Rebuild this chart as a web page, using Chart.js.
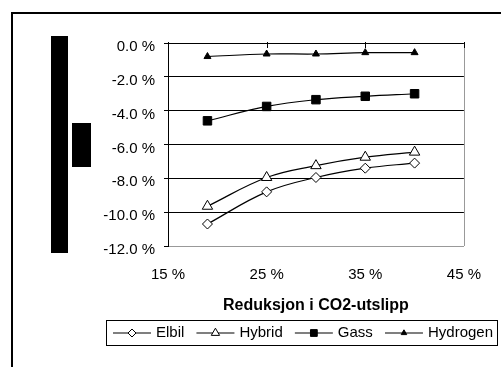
<!DOCTYPE html>
<html>
<head>
<meta charset="utf-8">
<script src="https://cdn.jsdelivr.net/npm/chart.js@4.4.1/dist/chart.umd.min.js"></script>
<style>
  html, body { margin: 0; padding: 0; background: #fff; }
  #wrap { position: relative; width: 501px; height: 367px; overflow: hidden; }
  #frame { position: absolute; left: 11px; top: 12px; width: 600px; height: 400px;
           border-left: 2px solid #000; border-top: 2px solid #000; }
  .block { position: absolute; background: #000; }
  #chart { position: absolute; left: 0; top: 0; }
</style>
</head>
<body>
<div id="wrap">
  <div id="frame"></div>
  <div class="block" style="left:51px;top:36px;width:17px;height:217px"></div>
  <div class="block" style="left:72px;top:123px;width:19px;height:44px"></div>
  <canvas id="chart" width="501" height="367"></canvas>
</div>
<script>
// reduksjon i CO2-utslipp (%) and change per technology (%)
const reduction = [19, 25, 30, 35, 40];
const elbil = [-10.7, -8.8, -7.95, -7.4, -7.1];
const hybrid = [-9.65, -7.95, -7.25, -6.75, -6.45];
const gass = [-4.6, -3.75, -3.35, -3.15, -3.0];
const hydrogen = [-0.8, -0.65, -0.65, -0.57, -0.57];

const seriesNames = ['Elbil', 'Hybrid', 'Gass', 'Hydrogen'];
const xTicks = [15, 25, 35, 45];
const yTicks = [0, -2, -4, -6, -8, -10, -12];
const xTitle = 'Reduksjon i CO2-utslipp';

const FONT = '"Liberation Sans", Arial, Helvetica, sans-serif';
Chart.defaults.font.family = FONT;
Chart.defaults.color = '#000';

const toPoints = ys => reduction.map((x, i) => ({ x: x, y: ys[i] }));

function series(label, ys, style, radius, fill) {
  return {
    label: label,
    data: toPoints(ys),
    borderColor: '#000',
    borderWidth: 1.2,
    tension: 0.4,
    pointStyle: style,
    pointRadius: radius,
    pointHoverRadius: radius,
    pointBackgroundColor: fill,
    pointBorderColor: '#000',
    pointBorderWidth: 1
  };
}

// plot frame: grey right edge, and the x axis tick marks along 0 %
const plotFrame = {
  id: 'plotFrame',
  beforeDatasetsDraw(chart) {
    const { ctx, chartArea: a, scales: { x } } = chart;
    ctx.save();
    ctx.lineWidth = 1;
    ctx.strokeStyle = '#999';
    const rx = Math.round(a.right) + 0.5;
    ctx.beginPath();
    ctx.moveTo(rx, a.top);
    ctx.lineTo(rx, a.bottom);
    ctx.stroke();
    ctx.strokeStyle = '#000';
    ctx.beginPath();
    x.ticks.forEach(t => {
      const px = Math.round(x.getPixelForValue(t.value)) + 0.5;
      ctx.moveTo(px, a.top - 1);
      ctx.lineTo(px, a.top + 5);
    });
    ctx.stroke();
    ctx.restore();
  }
};

// legend in a box, each entry drawn as line + marker + name
const boxLegend = {
  id: 'boxLegend',
  afterDraw(chart, args, opts) {
    const { ctx } = chart;
    const box = opts.box;
    ctx.save();
    ctx.font = opts.fontSize + 'px ' + FONT;
    ctx.lineWidth = 1;
    ctx.strokeStyle = '#000';
    ctx.strokeRect(box.left + 0.5, box.top + 0.5, box.width, box.height);

    const items = chart.data.datasets.map(ds => ({ ds: ds, w: ctx.measureText(ds.label).width }));
    const used = items.reduce((s, it) => s + opts.lineLength + opts.textGap + it.w, 0);
    const gap = (box.width - opts.padLeft - opts.padRight - used) / (items.length - 1);
    const cy = box.top + box.height / 2 + 0.5;
    let cx = box.left + opts.padLeft;
    items.forEach(it => {
      const ds = it.ds;
      ctx.strokeStyle = '#000';
      ctx.lineWidth = 1.2;
      ctx.beginPath();
      ctx.moveTo(cx, cy);
      ctx.lineTo(cx + opts.lineLength, cy);
      ctx.stroke();
      ctx.fillStyle = ds.pointBackgroundColor;
      ctx.lineWidth = 1;
      Chart.helpers.drawPoint(ctx, {
        pointStyle: ds.pointStyle,
        radius: ds.pointRadius * 0.8,
        rotation: 0,
        borderWidth: 1
      }, cx + opts.lineLength / 2, cy);
      ctx.fillStyle = '#000';
      ctx.textBaseline = 'middle';
      ctx.textAlign = 'left';
      ctx.fillText(ds.label, cx + opts.lineLength + opts.textGap, cy);
      cx += opts.lineLength + opts.textGap + it.w + gap;
    });
    ctx.restore();
  }
};

new Chart(document.getElementById('chart'), {
  type: 'line',
  data: {
    datasets: [
      series(seriesNames[0], elbil, 'rectRot', 5, '#fff'),
      series(seriesNames[1], hybrid, 'triangle', 6, '#fff'),
      series(seriesNames[2], gass, 'rect', 6, '#000'),
      series(seriesNames[3], hydrogen, 'triangle', 4, '#000')
    ]
  },
  options: {
    responsive: false,
    animation: false,
    events: [],
    layout: { padding: { top: 43, right: 29, left: 0, bottom: 0 } },
    scales: {
      x: {
        type: 'linear',
        position: 'bottom',
        min: 15,
        max: 45,
        afterBuildTicks: s => { s.ticks = xTicks.map(v => ({ value: v })); },
        afterFit: s => { s.height = 121; },
        grid: { display: true, drawOnChartArea: false, drawTicks: false },
        border: { color: '#999', width: 1 },
        ticks: {
          padding: 20,
          font: { size: 15 },
          color: '#000',
          maxRotation: 0,
          callback: v => v + ' %'
        },
        title: {
          display: true,
          text: xTitle,
          color: '#000',
          font: { size: 16, weight: 'bold' },
          padding: { top: 0, bottom: 52 }
        }
      },
      y: {
        min: -12,
        max: 0,
        afterBuildTicks: s => { s.ticks = yTicks.map(v => ({ value: v })); },
        afterFit: s => { s.width = 168; },
        grid: {
          color: c => (c.tick && c.tick.value === -12 ? '#999' : '#000'),
          tickColor: '#000',
          tickLength: 4,
          lineWidth: 1
        },
        border: { color: '#000', width: 1 },
        ticks: {
          padding: 9,
          labelOffset: 4,
          font: { size: 15 },
          color: '#000',
          callback: v => v.toFixed(1) + ' %'
        }
      }
    },
    plugins: {
      legend: { display: false },
      tooltip: { enabled: false },
      boxLegend: {
        box: { left: 106, top: 320, width: 391, height: 25 },
        fontSize: 15,
        lineLength: 38,
        textGap: 5,
        padLeft: 7,
        padRight: 4
      }
    }
  },
  plugins: [plotFrame, boxLegend]
});
</script>
</body>
</html>
